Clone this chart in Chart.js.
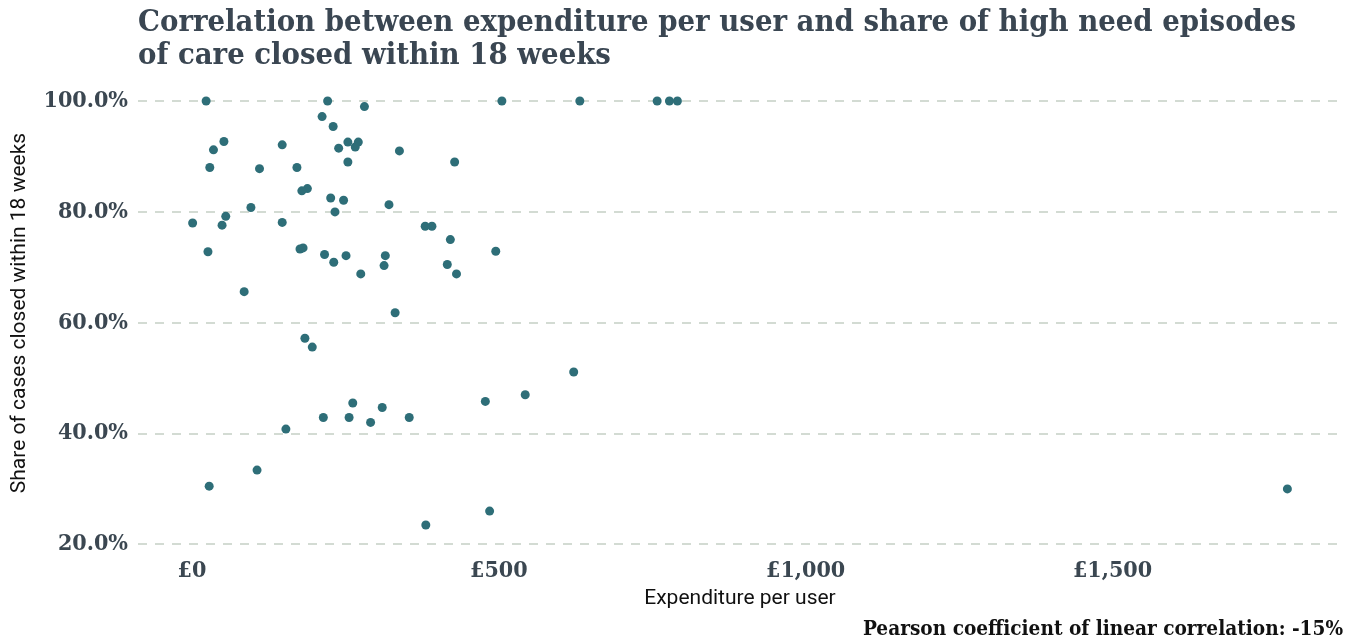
<!DOCTYPE html>
<html>
<head>
<meta charset="utf-8">
<script src="https://cdn.jsdelivr.net/npm/chart.js@4/dist/chart.umd.min.js"></script>
<style>
  html, body { margin: 0; padding: 0; background: #fff; }
  #wrap { position: relative; width: 1357px; height: 644px; }
  #title {
    position: absolute; left: 138px; top: 4px; margin: 0;
    font-family: "DejaVu Serif Condensed", "DejaVu Serif", serif; font-stretch: condensed;
    font-weight: bold; font-size: 30.7px; line-height: 33px; color: #3a4652;
  }
  #caption {
    position: absolute; right: 14px; top: 616px; margin: 0;
    font-family: "DejaVu Serif Condensed", "DejaVu Serif", serif; font-stretch: condensed;
    font-weight: bold; font-size: 20.6px; color: #111;
  }
</style>
</head>
<body>
<div id="wrap">
  <canvas id="chart" width="1357" height="644"></canvas>
  <h1 id="title">Correlation between expenditure per user and share of high need episodes<br>of care closed within 18 weeks</h1>
  <p id="caption">Pearson coefficient of linear correlation: -15%</p>
</div>
<script>
// expenditure per user (£) and share of cases closed within 18 weeks (%)
const expenditure = [
  23, 221, 281, 505, 212, 230, 52, 35, 147, 254,
  271, 239, 266, 338, 254, 428, 29, 110, 171, 188,
  179, 226, 247, 321, 96, 233, 1, 55, 49, 147,
  380, 391, 421, 26, 176, 181, 216, 251, 315, 231,
  313, 275, 416, 431, 495, 632, 758, 778, 791, 85,
  331, 184, 196, 262, 214, 256, 291, 310, 354, 478,
  153, 106, 28, 381, 485, 543, 622, 1785
];
const shareClosed = [
  100, 100, 99.0, 100, 97.2, 95.4, 92.7, 91.2, 92.1, 92.6,
  92.6, 91.5, 91.7, 91.0, 89.0, 89.0, 88.0, 87.8, 88.0, 84.2,
  83.8, 82.5, 82.1, 81.3, 80.8, 80.0, 78.0, 79.2, 77.6, 78.1,
  77.4, 77.4, 75.0, 72.8, 73.3, 73.5, 72.3, 72.1, 72.1, 70.9,
  70.3, 68.8, 70.5, 68.8, 72.9, 100, 100, 100, 100, 65.6,
  61.8, 57.2, 55.6, 45.5, 42.9, 42.9, 42.0, 44.7, 42.9, 45.8,
  40.8, 33.4, 30.5, 23.5, 26.0, 47.0, 51.1, 30.0
];

const xTicks = [0, 500, 1000, 1500];
const yTicks = [20, 40, 60, 80, 100];

const points = expenditure.map((x, i) => ({ x: x, y: shareClosed[i] }));

const tickFont = { family: '"DejaVu Serif Condensed", "DejaVu Serif", serif', weight: 'bold', size: 23 };
const titleFont = { family: '"Liberation Sans Narrow", "Roboto", sans-serif', size: 21 };

new Chart(document.getElementById('chart'), {
  type: 'scatter',
  data: {
    datasets: [{
      data: points,
      backgroundColor: '#2e6e78',
      borderWidth: 0,
      pointRadius: 4.5,
      pointHoverRadius: 4.5
    }]
  },
  options: {
    responsive: false,
    animation: false,
    layout: { padding: { top: 80, right: 15, bottom: 0, left: 0 } },
    plugins: {
      legend: { display: false },
      tooltip: { enabled: false }
    },
    scales: {
      x: {
        min: -88,
        max: 1874,
        afterBuildTicks: (scale) => { scale.ticks = xTicks.map(v => ({ value: v })); },
        afterFit: (scale) => { scale.height = 98; },
        grid: { display: false, drawTicks: false },
        border: { display: false },
        ticks: {
          padding: 11,
          color: '#3b4751',
          font: tickFont,
          callback: (v) => '£' + v.toLocaleString('en-GB')
        },
        title: {
          display: true,
          text: 'Expenditure per user',
          color: '#111',
          font: titleFont,
          padding: { top: 0, bottom: 33 }
        }
      },
      y: {
        min: 19.7,
        max: 103.8,
        afterBuildTicks: (scale) => { scale.ticks = yTicks.map(v => ({ value: v })); },
        afterFit: (scale) => { scale.width = 138; },
        grid: { color: '#d3dbd3', lineWidth: 2, drawTicks: false },
        border: { display: false, dash: [9, 8] },
        ticks: {
          padding: 10,
          color: '#3b4751',
          font: tickFont,
          callback: (v) => v.toFixed(1) + '%'
        },
        title: {
          display: true,
          text: 'Share of cases closed within 18 weeks',
          color: '#111',
          font: titleFont,
          padding: { top: 7, bottom: 0 }
        }
      }
    }
  }
});
</script>
</body>
</html>
